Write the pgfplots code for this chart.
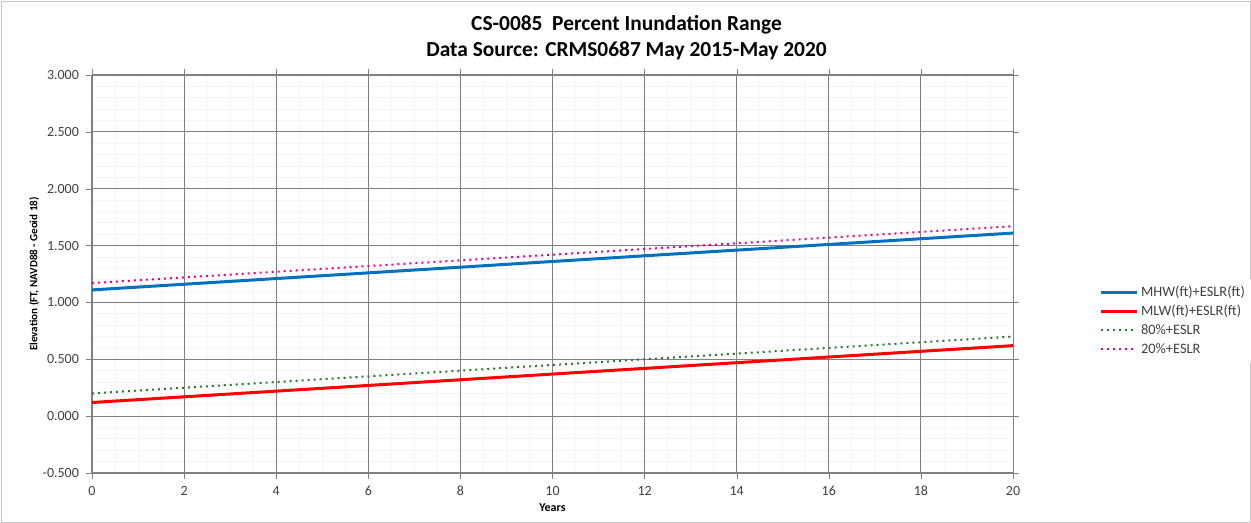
\documentclass[border=0pt]{standalone}
\usepackage{pgfplots}
\pgfplotsset{compat=1.18}
\usepackage{fontspec}
\setmainfont{Carlito}
\definecolor{mhw}{RGB}{0,112,192}
\definecolor{mlw}{RGB}{255,0,0}
\definecolor{p80}{RGB}{40,120,50}
\definecolor{p20}{RGB}{235,0,140}
\definecolor{gridc}{RGB}{128,128,128}
\begin{document}
\begin{tikzpicture}
\useasboundingbox (-46pt,-25pt) rectangle (579.5pt,236.5pt);
\draw[gray!45] (-45.5pt,-24.5pt) rectangle (579pt,236pt);
\begin{axis}[
    at={(0,0)}, anchor=south west,
    scale only axis,
    width=460.5pt, height=199pt,
    xmin=0, xmax=20, ymin=-0.5, ymax=3,
    xtick={0,2,...,20},
    ytick={-0.5,0,...,3},
    minor x tick num=3, minor y tick num=4,
    grid=both,
    major grid style={gridc, line width=0.5pt},
    minor grid style={gray!8, line width=0.4pt, blend mode=multiply},
    axis line style={gridc},
    tick style={gridc},
    tick align=outside,
    major tick length=3pt, minor tick length=0pt,
    xticklabel style={font=\fontsize{7}{8}\selectfont, text=black!75},
    yticklabel style={font=\fontsize{7}{8}\selectfont, text=black!75,
        /pgf/number format/.cd, fixed, fixed zerofill, precision=3},
    /pgf/number format/assume math mode=true,
    xlabel={\bfseries Years},
    ylabel={\bfseries Elevation (FT, NAVD88 - Geoid 18)},
    xlabel style={font=\fontsize{6}{7}\selectfont, yshift=3pt},
    ylabel style={font=\fontsize{5.5}{6}\selectfont, yshift=-5pt},
    title style={font=\bfseries\fontsize{10.7}{13}\selectfont, align=center, yshift=-2pt, xshift=37pt},
    title={CS-0085\ \ Percent Inundation Range\\Data Source: CRMS0687 May 2015-May 2020},
    legend style={at={(1.087,0.489)}, anchor=north west, draw=none,
        font=\fontsize{7.2}{8}\selectfont, text=black!75, row sep=0pt,
        nodes={inner sep=1.25pt, text height=5.5pt, text depth=1.5pt}},
    legend image code/.code={\draw[#1] (0pt,0pt) -- (18pt,0pt);},
    legend cell align=left,
]
\addplot[mhw, line width=1.5pt] coordinates {(0,1.11) (20,1.61)};
\addlegendentry{MHW(ft)+ESLR(ft)}
\addplot[mlw, line width=1.5pt] coordinates {(0,0.12) (20,0.62)};
\addlegendentry{MLW(ft)+ESLR(ft)}
\addplot[p80, line width=1pt, dotted] coordinates {(0,0.20) (20,0.70)};
\addlegendentry{80\%+ESLR}
\addplot[p20, line width=1pt, dotted] coordinates {(0,1.17) (20,1.67)};
\addlegendentry{20\%+ESLR}
\end{axis}
\end{tikzpicture}
\end{document}
